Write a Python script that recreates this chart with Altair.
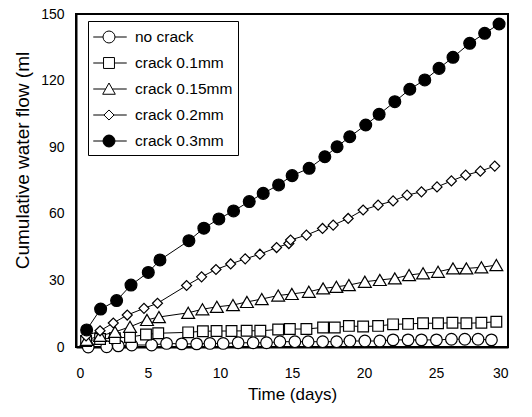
import altair as alt
import pandas as pd

series_names = ["no crack", "crack 0.1mm", "crack 0.15mm", "crack 0.2mm", "crack 0.3mm"]

t_none = [0.85, 2.13, 2.94, 3.87, 5.25, 6.29, 7.34, 8.38, 9.3, 10.22, 11.26, 12.3, 13.23, 14.16, 15.2,
          16.12, 17.13, 18.1, 19.02, 20.06, 21.1, 22.02, 23.06, 23.99, 25.03, 26.07, 27.0, 27.92, 28.85]
q_none = [0.0, 0.1, 0.5, 0.9, 0.9, 1.6, 1.4, 1.4, 1.6, 1.6, 1.9, 1.9, 1.9, 2.4, 2.4,
          2.4, 2.4, 2.4, 2.7, 2.7, 2.7, 3.2, 3.2, 3.2, 3.2, 3.5, 3.5, 3.5, 3.2]

t_01 = [0.7, 1.67, 2.7, 3.75, 4.86, 5.71, 7.79, 8.81, 9.76, 10.8, 11.85, 12.8, 14.04, 14.85, 16.0,
        17.16, 17.97, 18.95, 19.94, 20.98, 22.02, 23.06, 24.1, 25.14, 26.14, 27.11, 28.15, 29.19]
q_01 = [2.7, 3.6, 4.0, 4.5, 5.6, 6.2, 6.6, 7.1, 7.2, 7.2, 7.3, 7.3, 7.9, 8.1, 8.1,
        8.8, 8.8, 9.5, 9.2, 9.5, 10.2, 10.4, 10.7, 10.7, 10.9, 10.7, 10.9, 11.4]

t_015 = [0.74, 1.67, 2.71, 3.75, 4.93, 5.76, 7.79, 8.78, 9.78, 10.9, 11.87, 12.9, 14.04, 14.99, 16.17,
         17.16, 18.08, 18.95, 20.06, 21.1, 22.14, 23.13, 24.1, 25.14, 26.18, 27.11, 28.15, 29.19]
q_015 = [3.2, 5.0, 6.8, 9.1, 12.2, 13.5, 15.4, 17.0, 18.1, 18.9, 20.3, 21.6, 23.2, 23.9, 24.9,
         26.4, 27.1, 27.9, 29.4, 30.2, 30.9, 32.4, 33.2, 33.9, 35.4, 35.4, 35.9, 36.9]

t_02 = [0.7, 1.67, 2.59, 3.56, 4.72, 5.66, 7.68, 8.72, 9.72, 10.74, 11.75, 12.77, 13.93, 14.78, 14.9,
        16.0, 17.12, 17.86, 18.9, 19.94, 20.98, 22.02, 22.99, 23.99, 25.07, 26.07, 27.06, 28.08, 29.08]
q_02 = [5.0, 7.3, 10.8, 14.4, 17.4, 19.7, 27.7, 31.6, 34.9, 37.4, 39.7, 41.8, 44.8, 46.6, 48.2,
        50.4, 53.4, 54.9, 57.9, 61.7, 63.9, 65.8, 68.4, 69.9, 72.1, 74.8, 77.4, 79.2, 81.5]

t_03 = [0.74, 1.71, 2.82, 3.82, 5.02, 5.83, 7.84, 8.88, 9.92, 10.94, 12.03, 13.0, 14.07, 15.01, 16.19,
        17.28, 18.13, 19.01, 20.12, 21.05, 22.14, 23.18, 24.22, 25.21, 26.18, 27.34, 28.38, 29.38]
q_03 = [7.7, 17.1, 20.9, 27.9, 33.6, 39.2, 47.9, 53.5, 57.7, 61.3, 65.5, 69.2, 73.0, 77.2, 80.5,
        85.7, 90.2, 94.7, 100.0, 104.8, 110.5, 116.1, 120.3, 125.5, 130.5, 136.8, 141.3, 145.5]

x_ticks = [0, 5, 10, 15, 20, 25, 30]
y_ticks = [0, 30, 60, 90, 120, 150]

all_t = [t_none, t_01, t_015, t_02, t_03]
all_q = [q_none, q_01, q_015, q_02, q_03]

frames = []
for name, ts, qs in zip(series_names, all_t, all_q):
    frames.append(pd.DataFrame({"series": name, "t": ts, "q": qs}))
df = pd.concat(frames, ignore_index=True)

shapes = ["circle", "square", "triangle-up", "diamond", "circle"]
fills = ["white", "white", "white", "white", "black"]
sizes = [135, 115, 165, 100, 140]

# legend symbol paths (unit = 10.5 px): line segment through the marker
legend_paths = [
    "M-1.5,0H-0.57M0.57,0H1.69M0.57,0A0.57,0.57,0,1,1,-0.57,0A0.57,0.57,0,1,1,0.57,0Z",
    "M-1.5,0H-0.52M0.52,0H1.69M-0.52,-0.52H0.52V0.52H-0.52Z",
    "M-1.5,0H-0.32M0.32,0H1.69M0,-0.57L0.6,0.5L-0.6,0.5Z",
    "M-1.5,0H-0.48M0.48,0H1.69M0,-0.48L0.48,0L0,0.48L-0.48,0Z",
    "M-1.5,0H-0.57M0.57,0H1.69M0.57,0A0.57,0.57,0,1,1,-0.57,0A0.57,0.57,0,1,1,0.57,0Z",
]
strokes = ["black"] * 5

FONT = "Liberation Sans"

x_enc = alt.X("t:Q", scale=alt.Scale(domain=[0, 30], nice=False),
              axis=alt.Axis(title="Time (days)", values=x_ticks, format="d"))
y_enc = alt.Y("q:Q", scale=alt.Scale(domain=[0, 150], nice=False),
              axis=alt.Axis(title="Cumulative water flow (ml", values=y_ticks, format="d"))

layers = []
for i, name in enumerate(series_names):
    sub = alt.Chart(df).transform_filter(alt.datum.series == name)
    layers.append(sub.mark_line(color="black", strokeWidth=1).encode(x=x_enc, y=y_enc))
for i, name in enumerate(series_names):
    sub = alt.Chart(df).transform_filter(alt.datum.series == name)
    layers.append(sub.mark_point(shape=shapes[i], filled=True, fill=fills[i], stroke="black",
                                 strokeWidth=1.2, opacity=1, size=sizes[i]).encode(x=x_enc, y=y_enc))

legend_def = alt.Legend(title=None, orient="none", legendX=12, legendY=7,
                        strokeColor="black", fillColor="white", padding=5,
                        labelFont=FONT, labelFontSize=15.5, labelColor="black",
                        labelOffset=15, rowPadding=6, symbolSize=441, symbolOffset=5,
                        symbolStrokeWidth=1, symbolStrokeColor="black")
legend_layer = alt.Chart(df).transform_filter("false").mark_point(
    filled=True, stroke="black", strokeWidth=1, opacity=1, size=441).encode(
    shape=alt.Shape("series:N", scale=alt.Scale(domain=series_names, range=legend_paths),
                    legend=legend_def),
    fill=alt.Fill("series:N", scale=alt.Scale(domain=series_names, range=fills),
                  legend=legend_def),
    stroke=alt.Stroke("series:N", scale=alt.Scale(domain=series_names, range=strokes),
                      legend=legend_def),
)
layers.append(legend_layer)

chart = alt.layer(*layers).properties(
    width=432, height=333,
    autosize=alt.AutoSizeParams(type="none"),
    padding={"left": 76, "top": 14, "right": 24, "bottom": 70},
).configure_view(
    stroke="black", strokeWidth=2
).configure_axis(
    grid=False, ticks=False, domainColor="black", domainWidth=2,
    labelFont=FONT, labelFontSize=14, labelColor="black",
    titleFont=FONT, titleFontSize=17, titleColor="black", titleFontWeight="normal",
).configure_axisX(
    labelPadding=19, titlePadding=6,
).configure_axisY(
    labelPadding=12, titleX=-54, titleY=146, titleAlign="center", titleBaseline="middle", titleAngle=270,
    titleFontSize=19,
)

chart.save("out.html", embed_options={"renderer": "svg", "actions": False})
